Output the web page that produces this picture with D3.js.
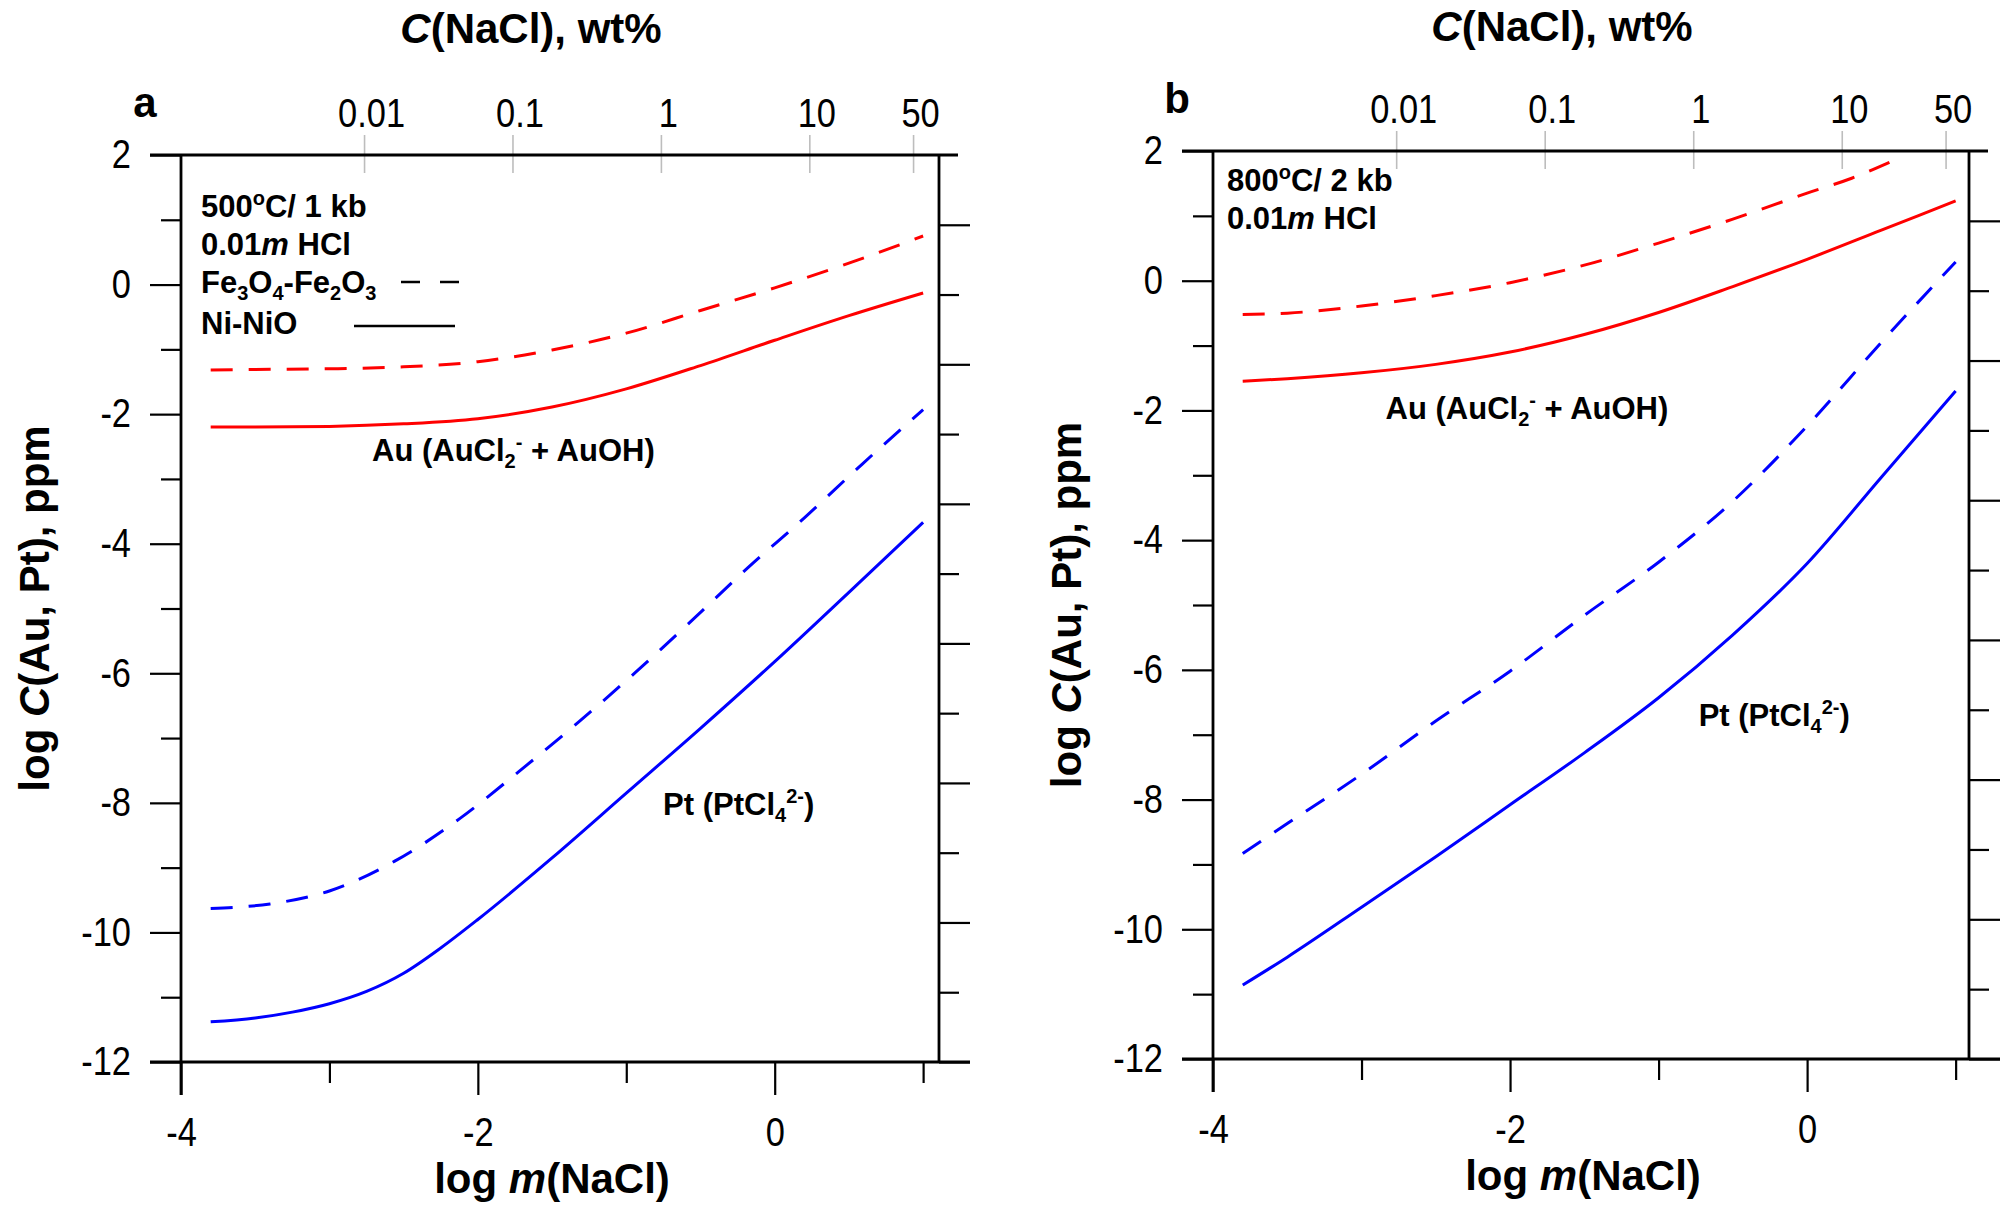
<!DOCTYPE html>
<html>
<head>
<meta charset="utf-8">
<script src="https://cdn.jsdelivr.net/npm/d3@7"></script>
<style>
  html, body { margin: 0; padding: 0; background: #fff; }
  svg { display: block; }
</style>
</head>
<body>
<script>
// ---------------- DATA ----------------
// x = log m(NaCl)
const xTickValues = [-4, -3, -2, -1, 0, 1];
const xTickLabels = ['-4', '', '-2', '', '0', ''];
const yTickValues = [2, 1, 0, -1, -2, -3, -4, -5, -6, -7, -8, -9, -10, -11, -12];
const yTickLabels = ['2', '', '0', '', '-2', '', '-4', '', '-6', '', '-8', '', '-10', '', '-12'];
const rightTickValues = [0, -1, -2, -3, -4, -5, -6, -7, -8, -9, -10, -11, -12];
const wtTickValues = [0.01, 0.1, 1, 10, 50];
const wtTickLabels = ['0.01', '0.1', '1', '10', '50'];

// Panel a: 500 °C / 1 kb   (HM = Fe3O4-Fe2O3 buffer, NNO = Ni-NiO buffer)
const xA = [-3.8, -3.5, -3, -2.5, -2, -1.5, -1, -0.5, 0, 0.5, 1];
const aAuHM  = [-1.32, -1.31, -1.30, -1.27, -1.19, -1.01, -0.75, -0.40, -0.05, 0.33, 0.75];
const aAuNNO = [-2.20, -2.20, -2.19, -2.15, -2.07, -1.89, -1.61, -1.25, -0.86, -0.48, -0.13];
const xAPtHM = [-3.8, -3.4, -3.0, -2.56, -2.12, -1.72, -1.32, -0.94, -0.57, -0.18, 0.2, 0.59, 1.0];
const aPtHM  = [-9.63, -9.56, -9.36, -8.90, -8.24, -7.51, -6.75, -5.99, -5.21, -4.37, -3.60, -2.77, -1.93];
const xAPtNNO = [-3.8, -3.5, -3.25, -3.0, -2.75, -2.5, -2.25, -2.0, -1.5, -1.0, -0.5, 0, 0.5, 1.0];
const aPtNNO  = [-11.38, -11.32, -11.23, -11.10, -10.91, -10.63, -10.24, -9.80, -8.85, -7.85, -6.85, -5.82, -4.75, -3.67];

// Panel b: 800 °C / 2 kb
const xB = [-3.8, -3.5, -3, -2.5, -2, -1.5, -1, -0.5, 0, 0.5, 1];
const xBAuHM = [-3.8, -3.5, -3, -2.5, -2, -1.5, -1, -0.5, 0, 0.3, 0.6];
const bAuHM  = [-0.52, -0.50, -0.39, -0.23, -0.03, 0.24, 0.58, 0.95, 1.35, 1.58, 1.87];
const bAuNNO = [-1.55, -1.51, -1.42, -1.29, -1.10, -0.83, -0.49, -0.09, 0.33, 0.78, 1.23];
const bPtHM  = [-8.83, -8.37, -7.61, -6.79, -6.02, -5.16, -4.34, -3.40, -2.24, -0.95, 0.29];
const bPtNNO = [-10.86, -10.43, -9.66, -8.88, -8.08, -7.28, -6.43, -5.46, -4.36, -3.03, -1.70];

// ---------------- DRAW ----------------
const W = 2011, H = 1206;
const RED = '#ff0000', BLUE = '#0000ff';
const SANS = '"Liberation Sans", Arial, sans-serif';
const DASH = '22,16';
const TICK_FONT = 40;

const svg = d3.select('body').append('svg').attr('width', W).attr('height', H);

function zipXY(xs, ys) { return xs.map((x, i) => ({ x: x, y: ys[i] })); }

// condensed look for tick labels (Arial Narrow-like)
function condense(sel) {
  sel.attr('font-family', SANS).attr('font-size', TICK_FONT).attr('fill', '#000')
    .each(function () {
      const L = this.getComputedTextLength();
      if (L > 0) d3.select(this).attr('textLength', L * 0.86).attr('lengthAdjust', 'spacingAndGlyphs');
    });
}

function drawPanel(p) {
  const g = svg.append('g');
  const x = d3.scaleLinear().domain(p.xDomain).range([p.left, p.right]);
  const y = d3.scaleLinear().domain([2, -12]).range([p.top, p.bottom]);
  const yR = d3.scaleLinear().domain([1, -12]).range([p.top, p.bottom]);
  // wt% scale: m = wt% / 5.844
  const wt = d3.scaleLog()
    .domain([5.844 * Math.pow(10, p.xDomain[0]), 5.844 * Math.pow(10, p.xDomain[1])])
    .range([p.left, p.right]);

  // top wt% axis (grey ticks crossing the frame)
  const topAx = g.append('g').attr('transform', `translate(0,${p.top})`)
    .call(d3.axisTop(wt).tickValues(wtTickValues)
      .tickFormat((d, i) => wtTickLabels[i]).tickSize(20).tickPadding(8));
  topAx.select('.domain').remove();
  topAx.selectAll('.tick line').attr('y1', 18).attr('y2', -20)
    .attr('stroke', '#bdbdbd').attr('stroke-width', 1.6);
  topAx.selectAll('.tick text').attr('dx', 7).call(condense);

  // left axis
  const leftMajor = yTickValues.filter((d, i) => yTickLabels[i] !== '');
  const leftMinor = yTickValues.filter((d, i) => yTickLabels[i] === '');
  const lA = g.append('g').attr('transform', `translate(${p.left},0)`)
    .call(d3.axisLeft(y).tickValues(leftMajor)
      .tickFormat(d => yTickLabels[yTickValues.indexOf(d)]).tickSize(31).tickPadding(19));
  lA.select('.domain').remove();
  lA.selectAll('.tick line').attr('stroke-width', 2.2);
  lA.selectAll('.tick text').call(condense);
  const lB = g.append('g').attr('transform', `translate(${p.left},0)`)
    .call(d3.axisLeft(y).tickValues(leftMinor).tickFormat('').tickSize(20));
  lB.select('.domain').remove();
  lB.selectAll('.tick line').attr('stroke-width', 2.2);

  // right axis (unlabelled)
  const rA = g.append('g').attr('transform', `translate(${p.right},0)`)
    .call(d3.axisRight(yR).tickValues(rightTickValues).tickFormat('').tickSize(31));
  rA.select('.domain').remove();
  rA.selectAll('.tick line').attr('stroke-width', 2.2)
    .attr('x2', d => (Math.abs(d) % 2 === 0 ? 31 : 20));

  // bottom axis
  const bA = g.append('g').attr('transform', `translate(0,${p.bottom})`)
    .call(d3.axisBottom(x).tickValues(xTickValues)
      .tickFormat((d, i) => xTickLabels[i]).tickSize(33).tickPadding(23));
  bA.select('.domain').remove();
  bA.selectAll('.tick line').attr('stroke-width', 2.2)
    .attr('y2', d => (Math.abs(d) % 2 === 0 ? 33 : 21));
  bA.selectAll('.tick text').call(condense);

  // frame
  const frame = g.append('g').attr('stroke', '#000').attr('stroke-width', 2.8).attr('fill', 'none');
  frame.append('line').attr('x1', p.left - 31).attr('x2', p.right + 19).attr('y1', p.top).attr('y2', p.top);
  frame.append('line').attr('x1', p.left - 31).attr('x2', p.right + 31).attr('y1', p.bottom).attr('y2', p.bottom);
  frame.append('line').attr('x1', p.left).attr('x2', p.left).attr('y1', p.top).attr('y2', p.bottom + 33);
  frame.append('line').attr('x1', p.right).attr('x2', p.right).attr('y1', p.top).attr('y2', p.bottom);

  // curves
  const line = d3.line().x(d => x(d.x)).y(d => y(d.y)).curve(d3.curveMonotoneX);
  p.series.forEach(s => {
    g.append('path').datum(zipXY(s.x, s.y))
      .attr('d', line).attr('fill', 'none')
      .attr('stroke', s.color).attr('stroke-width', 3)
      .attr('stroke-dasharray', s.dashed ? DASH : null);
  });

  // titles
  const cx = (p.left + p.right) / 2;
  const tt = g.append('text').attr('x', cx - 29).attr('y', p.titleY)
    .attr('text-anchor', 'middle').attr('font-family', SANS).attr('font-weight', 'bold')
    .attr('font-size', 42);
  tt.append('tspan').attr('font-style', 'italic').text('C');
  tt.append('tspan').text('(NaCl), wt%');

  const bt = g.append('text').attr('x', cx - 8).attr('y', p.bottom + 131)
    .attr('text-anchor', 'middle').attr('font-family', SANS).attr('font-weight', 'bold')
    .attr('font-size', 42);
  bt.append('tspan').text('log ');
  bt.append('tspan').attr('font-style', 'italic').text('m');
  bt.append('tspan').text('(NaCl)');

  const yt = g.append('text')
    .attr('transform', `translate(${p.left - 132},${(p.top + p.bottom) / 2}) rotate(-90)`)
    .attr('text-anchor', 'middle').attr('font-family', SANS).attr('font-weight', 'bold')
    .attr('font-size', 42);
  yt.append('tspan').text('log ');
  yt.append('tspan').attr('font-style', 'italic').text('C');
  yt.append('tspan').text('(Au, Pt), ppm');

  g.append('text').attr('x', p.left - 36).attr('y', p.top - 38)
    .attr('text-anchor', 'middle').attr('font-family', SANS).attr('font-weight', 'bold')
    .attr('font-size', 42).text(p.letter);

  // annotations
  const ann = g.append('g').attr('font-family', SANS).attr('font-weight', 'bold')
    .attr('font-size', 31).attr('fill', '#000');
  const t1 = ann.append('text').attr('x', p.left + p.annDx).attr('y', p.top + p.annDy);
  t1.append('tspan').text(p.temp);
  t1.append('tspan').attr('font-size', 20).attr('dy', -12).text('o');
  t1.append('tspan').attr('dy', 12).text('C/ ' + p.press);
  const t2 = ann.append('text').attr('x', p.left + p.annDx).attr('y', p.top + p.annDy + 38);
  t2.append('tspan').text('0.01');
  t2.append('tspan').attr('font-style', 'italic').text('m');
  t2.append('tspan').text(' HCl');

  if (p.legend) {
    const t3 = ann.append('text').attr('x', p.left + p.annDx).attr('y', p.top + p.annDy + 76);
    t3.append('tspan').text('Fe');
    t3.append('tspan').attr('font-size', 20).attr('dy', 7).text('3');
    t3.append('tspan').attr('dy', -7).text('O');
    t3.append('tspan').attr('font-size', 20).attr('dy', 7).text('4');
    t3.append('tspan').attr('dy', -7).text('-Fe');
    t3.append('tspan').attr('font-size', 20).attr('dy', 7).text('2');
    t3.append('tspan').attr('dy', -7).text('O');
    t3.append('tspan').attr('font-size', 20).attr('dy', 7).text('3');
    ann.append('text').attr('x', p.left + p.annDx).attr('y', p.top + p.annDy + 117).text('Ni-NiO');
    g.append('line').attr('x1', p.left + 220).attr('x2', p.left + 279)
      .attr('y1', p.top + 127).attr('y2', p.top + 127)
      .attr('stroke', '#000').attr('stroke-width', 2.6).attr('stroke-dasharray', '19,20');
    g.append('line').attr('x1', p.left + 173).attr('x2', p.left + 274)
      .attr('y1', p.top + 171).attr('y2', p.top + 171)
      .attr('stroke', '#000').attr('stroke-width', 2.6);
  }

  const au = ann.append('text').attr('x', x(p.auLabel[0])).attr('y', y(p.auLabel[1]));
  au.append('tspan').text('Au (AuCl');
  au.append('tspan').attr('font-size', 20).attr('dy', 7).text('2');
  au.append('tspan').attr('font-size', 20).attr('dy', -19).text('-');
  au.append('tspan').attr('dy', 12).text(' + AuOH)');

  const pt = ann.append('text').attr('x', x(p.ptLabel[0])).attr('y', y(p.ptLabel[1]));
  pt.append('tspan').text('Pt (PtCl');
  pt.append('tspan').attr('font-size', 20).attr('dy', 7).text('4');
  pt.append('tspan').attr('font-size', 20).attr('dy', -19).text('2-');
  pt.append('tspan').attr('dy', 12).text(')');
}

drawPanel({
  letter: 'a', left: 181, right: 939, top: 155, bottom: 1062, xDomain: [-4, 1.107],
  titleY: 43, temp: '500', press: '1 kb', annDx: 20, annDy: 62, legend: true,
  auLabel: [-2.713, -2.72], ptLabel: [-0.752, -8.19],
  series: [
    { x: xA, y: aAuHM, color: RED, dashed: true },
    { x: xA, y: aAuNNO, color: RED, dashed: false },
    { x: xAPtHM, y: aPtHM, color: BLUE, dashed: true },
    { x: xAPtNNO, y: aPtNNO, color: BLUE, dashed: false }
  ]
});

drawPanel({
  letter: 'b', left: 1213, right: 1969, top: 151, bottom: 1059, xDomain: [-4, 1.09],
  titleY: 41, temp: '800', press: '2 kb', annDx: 14, annDy: 40, legend: false,
  auLabel: [-2.838, -2.125], ptLabel: [-0.730, -6.869],
  series: [
    { x: xBAuHM, y: bAuHM, color: RED, dashed: true },
    { x: xB, y: bAuNNO, color: RED, dashed: false },
    { x: xB, y: bPtHM, color: BLUE, dashed: true },
    { x: xB, y: bPtNNO, color: BLUE, dashed: false }
  ]
});
</script>
</body>
</html>
